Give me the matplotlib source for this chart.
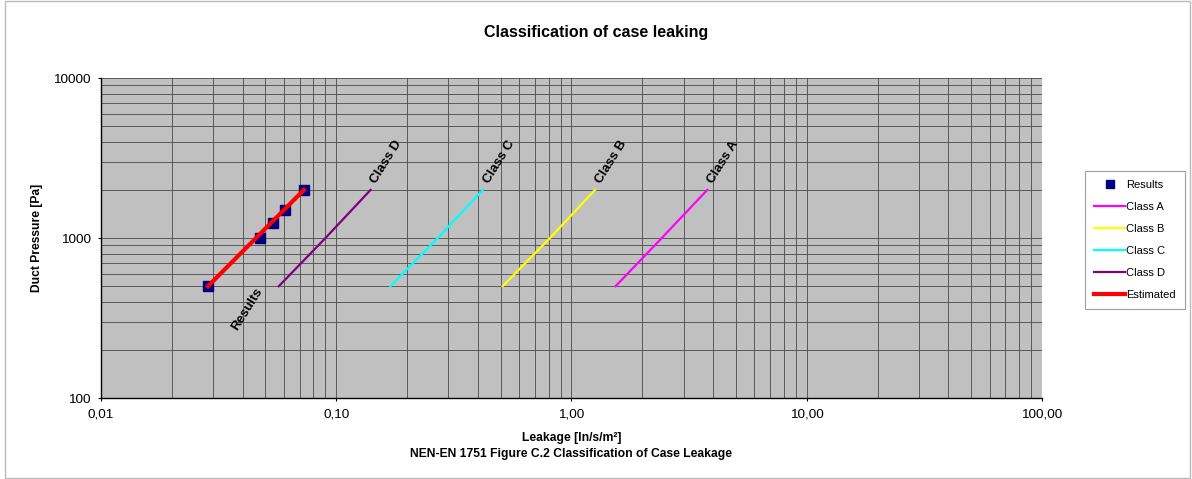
import matplotlib
matplotlib.use('Agg')
import matplotlib.pyplot as plt
from matplotlib.ticker import LogLocator, NullFormatter
from matplotlib.patches import Rectangle

plt.rcParams['font.family'] = ['Liberation Sans', 'DejaVu Sans']

# data
pressure = [500, 1000, 2000]
class_a = [1.54, 2.42, 3.78]
class_b = [0.51, 0.81, 1.26]
class_c = [0.17, 0.27, 0.42]
class_d = [0.057, 0.090, 0.140]
classes = ['Class A', 'Class B', 'Class C', 'Class D']
class_colors = ['#FF00FF', '#FFFF00', '#00FFFF', '#800080']

res_leak = [0.0285, 0.0474, 0.0538, 0.0606, 0.0729]
res_press = [500, 1000, 1250, 1500, 2000]
est_leak = [0.0285, 0.0729]
est_press = [500, 2000]

x_ticks = [0.01, 0.1, 1, 10, 100]
x_labels = ['0,01', '0,10', '1,00', '10,00', '100,00']
y_ticks = [100, 1000, 10000]
y_labels = ['100', '1000', '10000']

fig = plt.figure(figsize=(11.92, 4.79), dpi=100)
fig.patches.append(Rectangle((0.004, 0.002), 0.994, 0.996, transform=fig.transFigure,
                             fill=False, edgecolor='#BBBBBB', linewidth=1))
ax = fig.add_axes([0.0847, 0.169, 0.7894, 0.668])
ax.set_facecolor('#C0C0C0')
ax.set_xscale('log')
ax.set_yscale('log')
ax.set_xlim(0.01, 100)
ax.set_ylim(100, 10000)

# grid
ax.xaxis.set_minor_locator(LogLocator(base=10, subs=range(2, 10)))
ax.yaxis.set_minor_locator(LogLocator(base=10, subs=range(2, 10)))
ax.xaxis.set_minor_formatter(NullFormatter())
ax.yaxis.set_minor_formatter(NullFormatter())
ax.grid(True, which='both', color='#4A4A4A', linewidth=0.6)
ax.set_axisbelow(True)

ax.set_xticks(x_ticks)
ax.set_xticklabels(x_labels, fontsize=9.7)
ax.set_yticks(y_ticks)
ax.set_yticklabels(y_labels, fontsize=9.7)
ax.tick_params(which='minor', length=0)
ax.tick_params(which='major', length=2.5, width=0.8, pad=5)
for s in ['top', 'right']:
    ax.spines[s].set_visible(False)
for s in ['left', 'bottom']:
    ax.spines[s].set_linewidth(1.0)

# series
ax.plot(res_leak, res_press, linestyle='none', marker='s', markersize=7,
        color='#000080', label='Results', zorder=4)
for name, vals, col in zip(classes, [class_a, class_b, class_c, class_d], class_colors):
    ax.plot(vals, pressure, color=col, linewidth=1.6, label=name, zorder=3)
    ax.annotate(name, (vals[-1], pressure[-1]), xytext=(6, 3), textcoords='offset points',
                rotation=58, rotation_mode='anchor', ha='left', va='bottom',
                fontsize=9.5, fontweight='bold')
ax.plot(est_leak, est_press, color='#FF0000', linewidth=3, label='Estimated', zorder=5)
ax.annotate('Results', (0.036, 258), xytext=(6, 0), textcoords='offset points',
            rotation=58, rotation_mode='anchor', ha='left', va='bottom',
            fontsize=9.5, fontweight='bold')

fig.text(0.5, 1 - 32 / 479, 'Classification of case leaking', fontsize=11.5,
         fontweight='bold', ha='center', va='center')
ax.set_ylabel('Duct Pressure [Pa]', fontsize=8.7, fontweight='bold', labelpad=7)
ax.set_xlabel('Leakage [ln/s/m²]\nNEN-EN 1751 Figure C.2 Classification of Case Leakage',
              fontsize=8.7, fontweight='bold', labelpad=8.5, linespacing=1.45)

leg = ax.legend(loc='center left', bbox_to_anchor=(1.04, 0.494), fontsize=8,
                fancybox=False, edgecolor='#888888', handlelength=2.8,
                handletextpad=0.1, labelspacing=1.07, borderpad=0.8, markerscale=0.75)
leg.get_frame().set_linewidth(0.8)

fig.savefig('out.png', dpi=100)
